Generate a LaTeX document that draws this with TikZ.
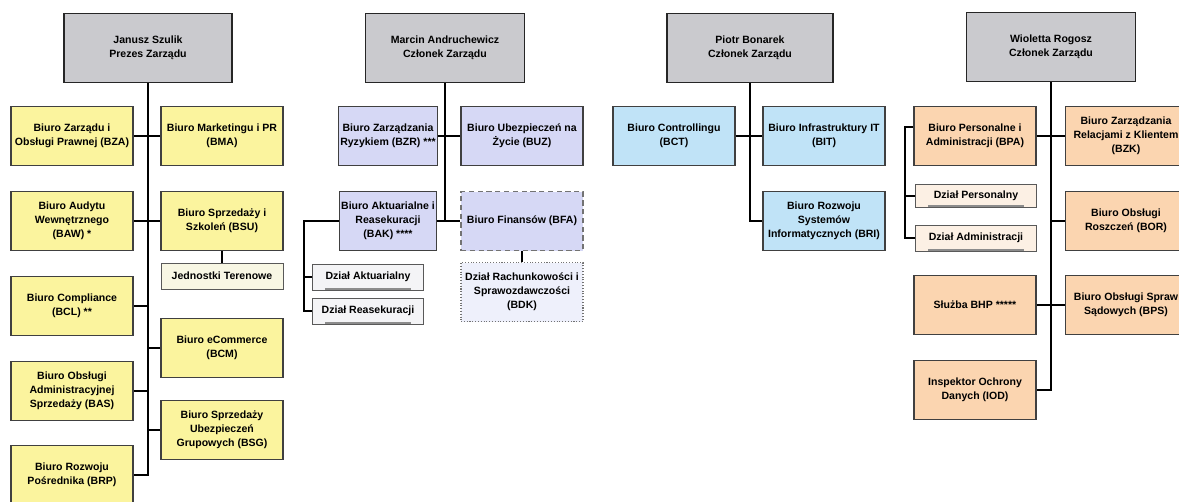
\documentclass[tikz,border=0pt]{standalone}
\usepackage{fontspec}
\setmainfont{Liberation Sans}
\definecolor{boardgray}{HTML}{CACACE}
\definecolor{deptyellow}{HTML}{FBF49E}
\definecolor{deptlilac}{HTML}{D6D8F5}
\definecolor{deptblue}{HTML}{C0E3F7}
\definecolor{deptpeach}{HTML}{FBD5B0}
\definecolor{unitcream}{HTML}{F8F7E4}
\definecolor{unitgray}{HTML}{F4F4F6}
\definecolor{unitlilac}{HTML}{EEF0FB}
\definecolor{unitpeach}{HTML}{FCF0E4}
\tikzset{
  board/.style={draw=black!85, line width=0.9pt, fill=boardgray, align=center,
    minimum width=3.36cm, minimum height=1.38cm, inner sep=1pt},
  dept/.style={draw=black!75, line width=0.6pt, align=center,
    minimum width=2.44cm, minimum height=1.18cm, inner sep=1pt},
  unit/.style={draw=black!65, line width=0.5pt, align=center,
    minimum width=2.22cm, minimum height=0.52cm, inner sep=1pt,
    path picture={\fill[black!45] ([xshift=7pt]path picture bounding box.south west)
      rectangle ([xshift=-7pt,yshift=1.3pt]path picture bounding box.south east);}},
  conn/.style={draw=black, line width=0.65pt}
}
\begin{document}
\begin{tikzpicture}[x=0.02cm, y=-0.02cm, font=\bfseries\fontsize{6}{8}\selectfont]
  \useasboundingbox (0,0) rectangle (1179,501);
  % Prezes Zarzadu
  \node[board] (szulik) at (148,48) {Janusz Szulik\\Prezes Zarządu};
  \node[dept, fill=deptyellow] (bza) at (72,136) {Biuro Zarządu i\\Obsługi Prawnej (BZA)};
  \node[dept, fill=deptyellow] (bma) at (222,136) {Biuro Marketingu i PR\\(BMA)};
  \node[dept, fill=deptyellow] (baw) at (72,221) {Biuro Audytu\\Wewnętrznego\\(BAW) *};
  \node[dept, fill=deptyellow] (bsu) at (222,221) {Biuro Sprzedaży i\\Szkoleń (BSU)};
  \node[unit, fill=unitcream, minimum width=2.44cm, path picture={}] (jt) at (222,276) {Jednostki Terenowe};
  \node[dept, fill=deptyellow] (bcl) at (72,306) {Biuro Compliance\\(BCL) **};
  \node[dept, fill=deptyellow] (bcm) at (222,348) {Biuro eCommerce\\(BCM)};
  \node[dept, fill=deptyellow] (bas) at (72,391) {Biuro Obsługi\\Administracyjnej\\Sprzedaży (BAS)};
  \node[dept, fill=deptyellow] (bsg) at (222,430) {Biuro Sprzedaży\\Ubezpieczeń\\Grupowych (BSG)};
  \node[dept, fill=deptyellow] (brp) at (72,475) {Biuro Rozwoju\\Pośrednika (BRP)};
  % Czlonek Zarzadu 1
  \node[board, minimum width=3.18cm] (andruchewicz) at (445,48) {Marcin Andruchewicz\\Członek Zarządu};
  \node[dept, fill=deptlilac, minimum width=1.86cm] (bzr) at (388,136) {Biuro Zarządzania\\Ryzykiem (BZR) ***};
  \node[dept, fill=deptlilac] (buz) at (522,136) {Biuro Ubezpieczeń na\\Życie (BUZ)};
  \node[dept, fill=deptlilac, minimum width=1.86cm] (bak) at (388,221) {Biuro Aktuarialne i\\Reasekuracji\\(BAK) ****};
  \node[dept, fill=deptlilac, draw=black!55, densely dashed] (bfa) at (522,221) {Biuro Finansów (BFA)};
  \node[unit, fill=unitgray] (dak) at (368,277) {Dział Aktuarialny};
  \node[unit, fill=unitgray] (dre) at (368,311) {Dział Reasekuracji};
  \node[dept, fill=unitlilac, draw=black!55, densely dotted] (bdk) at (522,292) {Dział Rachunkowości i\\Sprawozdawczości\\(BDK)};
  % Czlonek Zarzadu 2
  \node[board, minimum width=3.32cm] (bonarek) at (750,48) {Piotr Bonarek\\Członek Zarządu};
  \node[dept, fill=deptblue] (bct) at (674,136) {Biuro Controllingu\\(BCT)};
  \node[dept, fill=deptblue] (bit) at (824,136) {Biuro Infrastruktury IT\\(BIT)};
  \node[dept, fill=deptblue] (bri) at (824,221) {Biuro Rozwoju\\Systemów\\Informatycznych (BRI)};
  % Czlonek Zarzadu 3
  \node[board, minimum width=3.38cm] (rogosz) at (1051,47) {Wioletta Rogosz\\Członek Zarządu};
  \node[dept, fill=deptpeach] (bpa) at (975,136) {Biuro Personalne i\\Administracji (BPA)};
  \node[dept, fill=deptpeach] (bzk) at (1126,136) {Biuro Zarządzania\\Relacjami z Klientem\\(BZK)};
  \node[unit, fill=unitpeach, minimum width=2.42cm, minimum height=0.46cm] (dpe) at (976,196) {Dział Personalny};
  \node[unit, fill=unitpeach, minimum width=2.42cm] (dad) at (976,238) {Dział Administracji};
  \node[dept, fill=deptpeach] (bor) at (1126,221) {Biuro Obsługi\\Roszczeń (BOR)};
  \node[dept, fill=deptpeach] (bhp) at (975,305) {Służba BHP *****};
  \node[dept, fill=deptpeach] (bps) at (1126,305) {Biuro Obsługi Spraw\\Sądowych (BPS)};
  \node[dept, fill=deptpeach] (iod) at (975,390) {Inspektor Ochrony\\Danych (IOD)};
  \coordinate (bakspine) at (304,221);
  \coordinate (bpaspine) at (905,127);
  \begin{scope}[conn]
    \draw (szulik.south) |- (brp.east);
    \draw (bza.east) -- (bma.west);
    \draw (baw.east) -- (bsu.west);
    \draw (bsu.south) -- (jt.north);
    \draw (bcl.east) -- (bcl.east -| szulik.south);
    \draw (bcm.west) -- (bcm.west -| szulik.south);
    \draw (bas.east) -- (bas.east -| szulik.south);
    \draw (bsg.west) -- (bsg.west -| szulik.south);
    \draw (andruchewicz.south) -- (andruchewicz.south |- bak.east);
    \draw (bzr.east) -- (buz.west);
    \draw (bak.east) -- (bfa.west);
    \draw (bfa.south) -- (bdk.north);
    \draw (bak.west) -- (bakspine) |- (dre.west);
    \draw (dak.west) -- (dak.west -| bakspine);
    \draw (bonarek.south) |- (bri.west);
    \draw (bct.east) -- (bit.west);
    \draw (rogosz.south) |- (iod.east);
    \draw (bpa.east) -- (bzk.west);
    \draw (bor.west) -- (bor.west -| rogosz.south);
    \draw (bhp.east) -- (bps.west);
    \draw (bpaspine -| bpa.west) -- (bpaspine) |- (dad.west);
    \draw (dpe.west) -- (dpe.west -| bpaspine);
  \end{scope}
\end{tikzpicture}
\end{document}
